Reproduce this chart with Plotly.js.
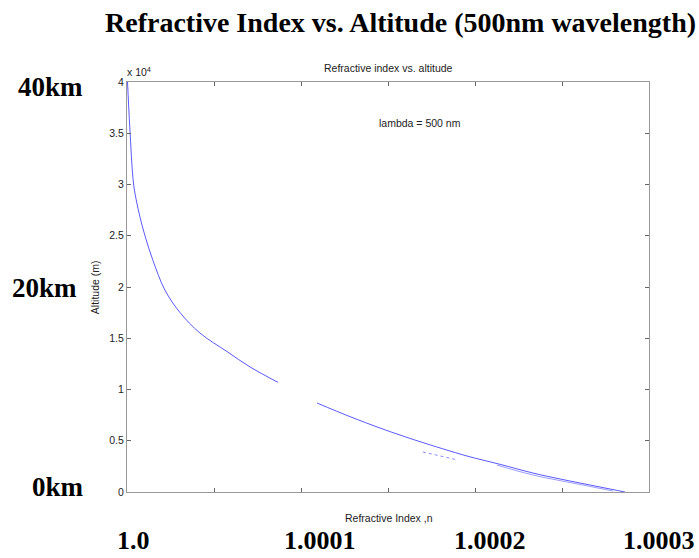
<!DOCTYPE html>
<html>
<head>
<meta charset="utf-8">
<script src="https://cdn.plot.ly/plotly-3.0.1.min.js"></script>
<style>html,body{margin:0;padding:0;background:#fff;}#chart{width:699px;height:558px;}</style>
</head>
<body>
<div id="chart"></div>
<script>
// Refractive index n (500 nm) vs altitude (m)
var nUpper = [1.0000003, 1.0000016, 1.0000037, 1.0000053, 1.0000075, 1.0000105, 1.0000149, 1.0000218, 1.0000305, 1.0000420, 1.0000575, 1.0000707, 1.0000868];
var hUpper = [40000, 35600, 30150, 28500, 26800, 24900, 22600, 19700, 17500, 15500, 13700, 12200, 10700];
var nLower = [1.0001092, 1.0001282, 1.0001454, 1.0001569, 1.0001684, 1.0001954, 1.0002144, 1.0002333, 1.0002489, 1.0002718, 1.0002862];
var hLower = [8680, 7350, 6240, 5560, 4910, 3510, 2700, 1850, 1270, 490, 0];
// faint second trace near the ground and stray dotted segment
var nEcho = [1.0002126, 1.0002333, 1.0002621, 1.0002793];
var hEcho = [2630, 1660, 680, 100];
var nStray = [1.0001701, 1.0001902];
var hStray = [3900, 3120];

var yTickVals = [0, 5000, 10000, 15000, 20000, 25000, 30000, 35000, 40000];
var yTickText = ['0', '0.5', '1', '1.5', '2', '2.5', '3', '3.5', '4'];

var sideLabels = [
  {text: '40km', x: -0.1475, y: 0.988},
  {text: '20km', x: -0.159, y: 0.4976},
  {text: '0km', x: -0.132, y: 0.0122}
];
var bottomLabels = [
  {text: '1.0', x: 0.0115},
  {text: '1.0001', x: 0.370},
  {text: '1.0002', x: 0.695},
  {text: '1.0003', x: 1.019}
];

var lineColor = 'rgba(60,60,255,0.85)';
var traces = [
  {x: nUpper, y: hUpper, mode: 'lines', line: {color: lineColor, width: 1, shape: 'spline', smoothing: 1}, hoverinfo: 'skip'},
  {x: nLower, y: hLower, mode: 'lines', line: {color: lineColor, width: 1, shape: 'spline', smoothing: 1}, hoverinfo: 'skip'},
  {x: nEcho, y: hEcho, mode: 'lines', line: {color: 'rgba(60,60,255,0.5)', width: 1, shape: 'spline'}, hoverinfo: 'skip'},
  {x: nStray, y: hStray, mode: 'lines', line: {color: 'rgba(60,60,255,0.6)', width: 1, dash: 'dot'}, hoverinfo: 'skip'}
];

var serif = {family: 'Liberation Serif, Times New Roman, serif', size: 27, color: '#000'};
var serifBottom = {family: 'Liberation Serif, Times New Roman, serif', size: 26, color: '#000'};
var serifTitle = {family: 'Liberation Serif, Times New Roman, serif', size: 28, color: '#000'};
var sans = {family: 'Liberation Sans, Arial, sans-serif', size: 10.5, color: '#222'};

var annotations = sideLabels.map(function (b) {
  return {text: '<b>' + b.text + '</b>', x: b.x, y: b.y, xref: 'paper', yref: 'paper', xanchor: 'center', yanchor: 'middle', showarrow: false, font: serif};
});
bottomLabels.forEach(function (b) {
  annotations.push({text: '<b>' + b.text + '</b>', x: b.x, y: -0.1195, xref: 'paper', yref: 'paper', xanchor: 'center', yanchor: 'middle', showarrow: false, font: serifBottom, borderpad: 0});
});
annotations.push({text: '<b>Refractive Index vs. Altitude (500nm wavelength)</b>', x: 0.523, y: 1.146, xref: 'paper', yref: 'paper', xanchor: 'center', yanchor: 'middle', showarrow: false, font: serifTitle});
annotations.push({text: 'Refractive index vs. altitude', x: 0.5, y: 1.034, xref: 'paper', yref: 'paper', xanchor: 'center', yanchor: 'middle', showarrow: false, font: sans});
annotations.push({text: 'x 10<sup>4</sup>', x: -0.004, y: 1.005, xref: 'paper', yref: 'paper', xanchor: 'left', yanchor: 'bottom', showarrow: false, font: sans});
annotations.push({text: 'lambda = 500 nm', x: 0.561, y: 0.9, xref: 'paper', yref: 'paper', xanchor: 'center', yanchor: 'middle', showarrow: false, font: sans});
annotations.push({text: 'Altitude (m)', x: -0.061, y: 0.5, xref: 'paper', yref: 'paper', xanchor: 'center', yanchor: 'middle', textangle: -90, showarrow: false, font: sans});
annotations.push({text: 'Refractive Index ,n', x: 0.502, y: -0.063, xref: 'paper', yref: 'paper', xanchor: 'center', yanchor: 'middle', showarrow: false, font: sans});

var layout = {
  width: 699, height: 558,
  margin: {l: 127, r: 50, t: 82, b: 66, pad: 0},
  paper_bgcolor: '#fff', plot_bgcolor: '#fff',
  showlegend: false,
  font: sans,
  xaxis: {range: [1, 1.0003], dtick: 0.00005, tick0: 1, showticklabels: false, ticks: 'inside', ticklen: 4, tickcolor: '#666', showline: true, linecolor: '#999', linewidth: 1, mirror: 'ticks', showgrid: false, zeroline: false},
  yaxis: {range: [0, 40000], tickmode: 'array', tickvals: yTickVals, ticktext: yTickText, ticks: 'inside', ticklen: 4, tickcolor: '#666', showline: true, linecolor: '#999', linewidth: 1, mirror: 'ticks', showgrid: false, zeroline: false, tickfont: sans},
  annotations: annotations
};

Plotly.newPlot('chart', traces, layout, {staticPlot: true, displayModeBar: false});
</script>
</body>
</html>
